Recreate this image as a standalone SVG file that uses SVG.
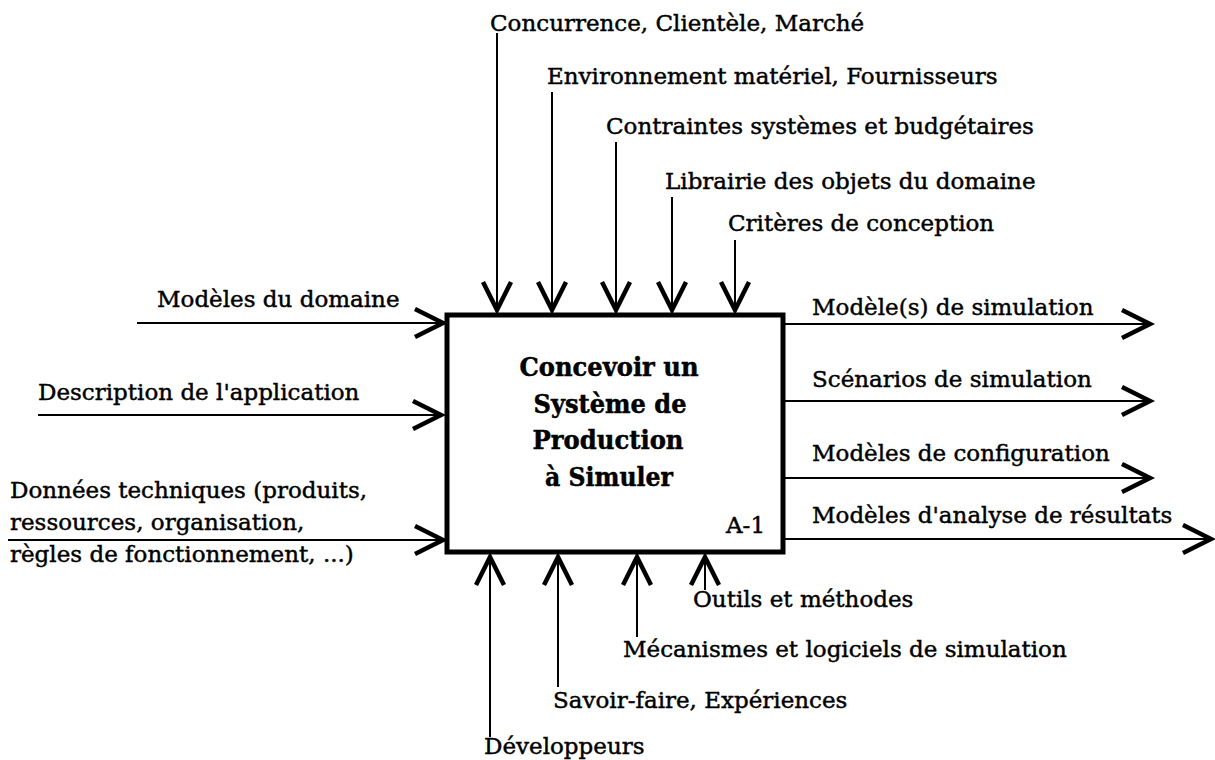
<svg xmlns="http://www.w3.org/2000/svg" width="1215" height="760" viewBox="0 0 1215 760">
<style>
.t{font-family:"DejaVu Serif","Liberation Serif",serif;font-size:23px;fill:#000;stroke:#000;stroke-width:0.45}
.b{font-family:"DejaVu Serif","Liberation Serif",serif;font-size:26px;font-weight:bold;fill:#000;stroke:#000;stroke-width:0.5;text-anchor:middle}
.c{stroke:#000;stroke-width:2;fill:none;marker-end:url(#ah)}
</style>
<defs>
<marker id="ah" markerUnits="userSpaceOnUse" markerWidth="40" markerHeight="40" viewBox="0 0 40 40" refX="32" refY="16" orient="auto">
<path d="M3,2 L31,16 L3,30" fill="none" stroke="#000" stroke-width="4.5" stroke-linejoin="miter"/>
</marker>
</defs>
<rect width="1215" height="760" fill="#fff"/>
<g id="connectors">
<line class="c" x1="497" y1="33" x2="497" y2="311"/>
<line class="c" x1="552" y1="92" x2="552" y2="311"/>
<line class="c" x1="616" y1="142" x2="616" y2="311"/>
<line class="c" x1="672" y1="197" x2="672" y2="311"/>
<line class="c" x1="735" y1="240" x2="735" y2="311"/>
<line class="c" x1="137" y1="323" x2="444" y2="323"/>
<line class="c" x1="38" y1="415" x2="442" y2="415"/>
<line class="c" x1="8" y1="540" x2="444" y2="540"/>
<line class="c" x1="785" y1="324" x2="1151" y2="324"/>
<line class="c" x1="785" y1="401" x2="1151" y2="401"/>
<line class="c" x1="785" y1="478" x2="1151" y2="478"/>
<line class="c" x1="785" y1="539" x2="1212" y2="539"/>
<line class="c" x1="490" y1="737" x2="490" y2="556"/>
<line class="c" x1="558" y1="687" x2="558" y2="556"/>
<line class="c" x1="637" y1="637" x2="637" y2="556"/>
<line class="c" x1="705" y1="590" x2="705" y2="556"/>
</g>
<g id="node-a1">
<rect x="447" y="315" width="336" height="237" fill="#fff" stroke="#000" stroke-width="5"/>
<text class="b" x="609" y="376" textLength="179" lengthAdjust="spacingAndGlyphs">Concevoir un</text>
<text class="b" x="610" y="413" textLength="153" lengthAdjust="spacingAndGlyphs">Système de</text>
<text class="b" x="608" y="449" textLength="151" lengthAdjust="spacingAndGlyphs">Production</text>
<text class="b" x="609" y="486" textLength="128" lengthAdjust="spacingAndGlyphs">à Simuler</text>
<text class="t" x="726" y="533">A-1</text>
</g>
<g id="controls">
<text class="t" x="490" y="31">Concurrence, Clientèle, Marché</text>
<text class="t" x="547" y="84">Environnement matériel, Fournisseurs</text>
<text class="t" x="606" y="134">Contraintes systèmes et budgétaires</text>
<text class="t" x="665" y="189">Librairie des objets du domaine</text>
<text class="t" x="728" y="231">Critères de conception</text>
</g>
<g id="inputs">
<text class="t" x="157" y="307">Modèles du domaine</text>
<text class="t" x="38" y="400">Description de l'application</text>
<text class="t" x="10" y="498">Données techniques (produits,</text>
<text class="t" x="10" y="530">ressources, organisation,</text>
<text class="t" x="10" y="562">règles de fonctionnement, ...)</text>
</g>
<g id="outputs">
<text class="t" x="812" y="315">Modèle(s) de simulation</text>
<text class="t" x="812" y="387">Scénarios de simulation</text>
<text class="t" x="812" y="461">Modèles de configuration</text>
<text class="t" x="812" y="523">Modèles d'analyse de résultats</text>
</g>
<g id="mechanisms">
<text class="t" x="693" y="607">Outils et méthodes</text>
<text class="t" x="623" y="657">Mécanismes et logiciels de simulation</text>
<text class="t" x="553" y="708">Savoir-faire, Expériences</text>
<text class="t" x="484" y="754">Développeurs</text>
</g>
</svg>
